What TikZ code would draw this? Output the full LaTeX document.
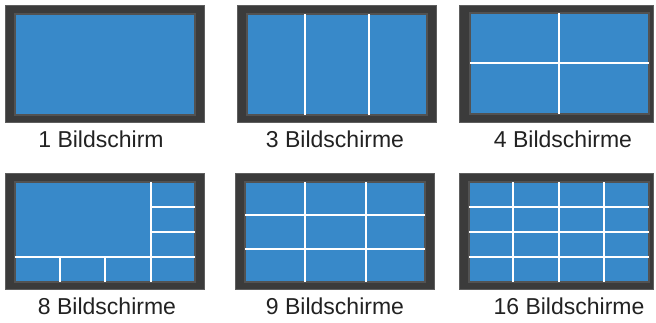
\documentclass[tikz,border=0pt]{standalone}
\usepackage{fontspec}
\setmainfont{Liberation Sans}
\definecolor{scr}{HTML}{3889C9}
\definecolor{bezel}{HTML}{3B3B3B}
\definecolor{bezelrim}{HTML}{5E5E5E}
\definecolor{innerrim}{HTML}{525252}
\definecolor{txt}{HTML}{222222}
\tikzset{
  frame/.style={fill=bezel, draw=bezelrim, line width=1.6pt},
  screen/.style={fill=scr, draw=innerrim, line width=1.6pt},
  split/.style={draw=white, line width=1.8pt},
  caption/.style={anchor=base, font=\fontsize{23}{26}\selectfont, text=txt, inner sep=0pt}
}
\begin{document}
\begin{tikzpicture}[x=1pt,y=-1pt]
\useasboundingbox (0,0) rectangle (656,322);
\fill[white] (0,0) rectangle (656,322);
% 1
\draw[frame] (5.5,5.5) rectangle (204.5,122.5);
\draw[screen] (15,14) rectangle (195,115);
\node[caption] (c1) at (101,147) {1 Bildschirm};
% 3
\draw[frame] (237.5,5.5) rectangle (436.5,122.5);
\draw[screen] (247,14) rectangle (427,115);
\draw[split] (305,14) -- (305,115) (369,14) -- (369,115);
\node[caption] (c3) at (335,147) {3 Bildschirme};
% 4
\draw[frame] (459.5,5.5) rectangle (653.5,122.5);
\draw[screen] (470,13) rectangle (649,114);
\draw[split] (559,13) -- (559,114) (470,63) -- (649,63);
\node[caption] (c4) at (563,147) {4 Bildschirme};
% 8
\draw[frame] (5.5,173.5) rectangle (204.5,289.5);
\draw[screen] (15,182) rectangle (195,282);
\draw[split] (151,182) -- (151,282) (15,257) -- (195,257)
  (60,257) -- (60,282) (105,257) -- (105,282)
  (151,207) -- (195,207) (151,232) -- (195,232);
\node[caption] (c8) at (107,314) {8 Bildschirme};
% 9
\draw[frame] (235.5,173.5) rectangle (434.5,289.5);
\draw[screen] (245,182) rectangle (425,282);
\draw[split] (305,182) -- (305,282) (366,182) -- (366,282)
  (245,215) -- (425,215) (245,249) -- (425,249);
\node[caption] (c9) at (335,314) {9 Bildschirme};
% 16
\draw[frame] (459.5,173.5) rectangle (653.5,289.5);
\draw[screen] (469,182) rectangle (649,282);
\draw[split] (513,182) -- (513,282) (559,182) -- (559,282) (604,182) -- (604,282)
  (469,207) -- (649,207) (469,232) -- (649,232) (469,257) -- (649,257);
\node[caption] (c16) at (569,314) {16 Bildschirme};
\end{tikzpicture}
\end{document}
